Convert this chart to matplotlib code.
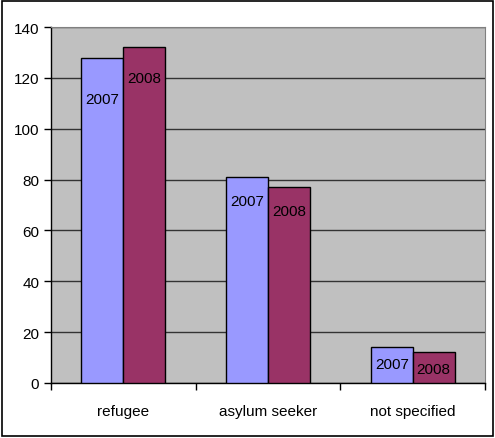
import matplotlib.pyplot as plt
import numpy as np

plt.rcParams['font.family'] = ['Liberation Sans', 'DejaVu Sans']

categories = ['refugee', 'asylum seeker', 'not specified']
years = ['2007', '2008']
values_2007 = [128, 81, 14]
values_2008 = [132, 77, 12]

colors = ['#9999FF', '#993366']
# how far below each bar top the year label sits (points)
label_drop = [[30, 17, 12], [22, 17, 12]]

fig = plt.figure(figsize=(4.95, 4.39), dpi=100)
ax = fig.add_axes([0.103, 0.1253, 0.877, 0.8107])
ax.set_facecolor('#C0C0C0')

x = np.arange(len(categories))
w = 0.29
for i, (vals, c) in enumerate(zip([values_2007, values_2008], colors)):
    pos = x + (i - 0.5) * w
    ax.bar(pos, vals, width=w, color=c, edgecolor='black', linewidth=1, zorder=3)
    for j, (p, v) in enumerate(zip(pos, vals)):
        ax.annotate(years[i], (p, v), xytext=(0, -label_drop[i][j]),
                    textcoords='offset points', ha='center', va='center',
                    fontsize=11, color='black', zorder=4)

ax.set_xlim(-0.5, len(categories) - 0.5)
ax.set_ylim(0, 140)
ax.set_yticks(range(0, 141, 20))
ax.yaxis.grid(True, color='#333333', linewidth=1, zorder=1)
ax.set_xticks(x)
ax.set_xticklabels(categories, fontsize=11)
ax.set_xticks(np.arange(-0.5, len(categories)), minor=True)
ax.tick_params(axis='x', which='major', length=0, pad=15)
ax.tick_params(axis='x', which='minor', length=5, width=1, direction='out', color='black')
ax.tick_params(axis='y', length=5, width=1, direction='out', labelsize=11, color='black')

for s in ['top', 'right']:
    ax.spines[s].set_color('#808080')
for s in ['left', 'bottom']:
    ax.spines[s].set_color('black')
    ax.spines[s].set_linewidth(1)

fig.patches.append(plt.Rectangle((0.004, 0.004), 0.992, 0.992, transform=fig.transFigure,
                                 fill=False, edgecolor='black', linewidth=1.2))

fig.savefig('out.png', dpi=100)
